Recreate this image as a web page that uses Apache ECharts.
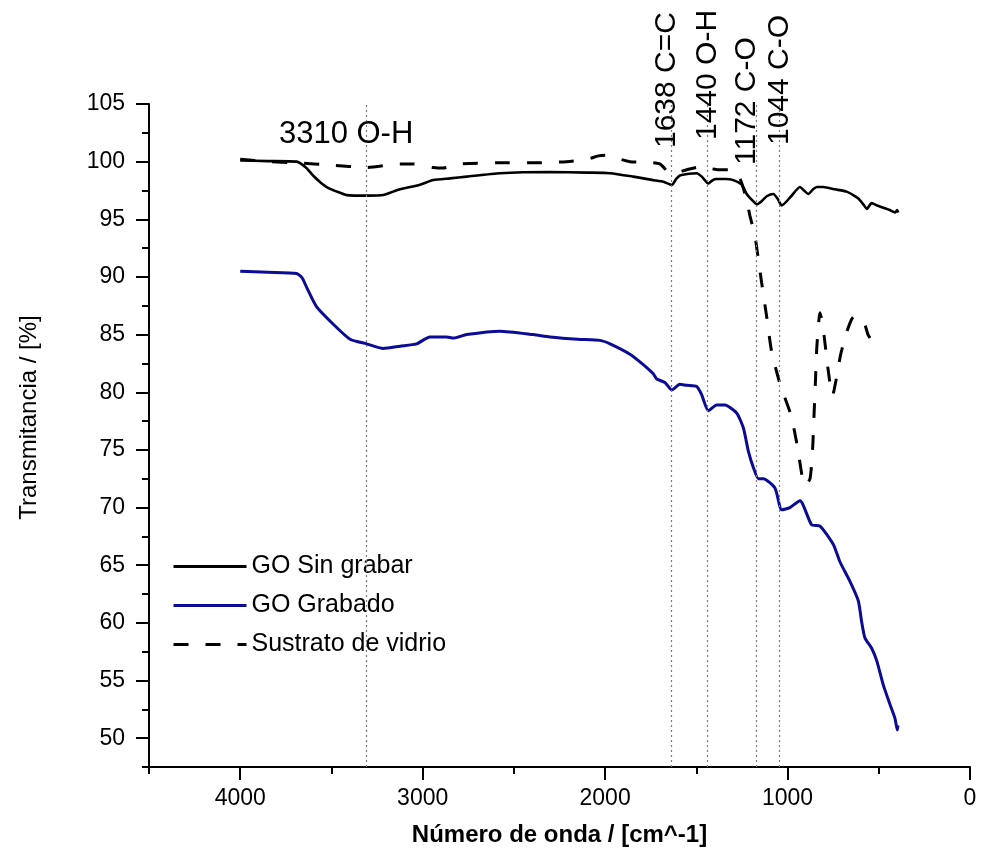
<!DOCTYPE html>
<html>
<head>
<meta charset="utf-8">
<script src="https://cdn.jsdelivr.net/npm/echarts@6/dist/echarts.min.js"></script>
<style>html,body{margin:0;padding:0;background:#fff}#c{width:982px;height:867px}</style>
</head>
<body>
<div id="c"></div>
<script>
// ---- data ----
const seriesNames = ['GO Sin grabar', 'GO Grabado', 'Sustrato de vidrio'];

const waveSin = [4000, 3850, 3691, 3640, 3601, 3560, 3526, 3470, 3416, 3300, 3216, 3161, 3124, 3015, 2942, 2850, 2759, 2576, 2302, 2100, 1973, 1845, 1736, 1680, 1635, 1610, 1590, 1540, 1498, 1470, 1434, 1410, 1389, 1340, 1297, 1251, 1224, 1190, 1169, 1140, 1114, 1078, 1055, 1032, 980, 932, 910, 886, 860, 840, 804, 740, 676, 640, 612, 580, 566, 539, 510, 475, 440, 410, 400, 393];
const transSin = [100.1, 100.05, 100.0, 99.5, 98.8, 98.2, 97.8, 97.4, 97.1, 97.05, 97.1, 97.4, 97.6, 98.0, 98.4, 98.55, 98.7, 99.0, 99.1, 99.05, 99.0, 98.7, 98.4, 98.25, 97.98, 98.5, 98.8, 98.95, 99.0, 98.7, 98.1, 98.4, 98.5, 98.5, 98.4, 98.0, 97.2, 96.6, 96.3, 96.6, 97.0, 97.2, 96.8, 96.2, 97.0, 97.8, 97.5, 97.2, 97.6, 97.8, 97.8, 97.6, 97.4, 97.1, 96.8, 96.2, 95.9, 96.4, 96.2, 96.0, 95.8, 95.6, 95.8, 95.6];

const waveGrab = [4000, 3850, 3691, 3660, 3636, 3581, 3490, 3398, 3307, 3216, 3124, 3033, 2960, 2868, 2832, 2759, 2576, 2393, 2302, 2150, 2028, 1973, 1864, 1791, 1736, 1717, 1672, 1635, 1590, 1553, 1498, 1471, 1434, 1389, 1343, 1279, 1242, 1215, 1188, 1160, 1133, 1069, 1032, 987, 932, 868, 822, 749, 713, 658, 612, 594, 576, 539, 511, 475, 438, 411, 398, 395];
const transGrab = [90.5, 90.4, 90.3, 89.9, 89.1, 87.4, 85.9, 84.6, 84.2, 83.8, 84.0, 84.2, 84.8, 84.8, 84.7, 85.0, 85.3, 85.0, 84.8, 84.6, 84.5, 84.2, 83.3, 82.4, 81.6, 81.15, 80.85, 80.2, 80.7, 80.6, 80.5, 79.8, 78.4, 78.9, 78.9, 78.2, 76.9, 74.9, 73.5, 72.5, 72.5, 71.7, 69.8, 70.0, 70.6, 68.5, 68.4, 66.8, 65.3, 63.6, 61.9, 60.1, 58.7, 57.8, 56.7, 54.6, 52.9, 51.7, 50.7, 51.1];

const waveVid = [4000, 3850, 3690, 3500, 3307, 3124, 3051, 2942, 2888, 2800, 2740, 2576, 2384, 2211, 2100, 2037, 2000, 1940, 1864, 1760, 1700, 1654, 1620, 1553, 1480, 1420, 1380, 1299, 1260, 1230, 1206, 1178, 1160, 1142, 1114, 1087, 1041, 981, 945, 917, 904, 877, 863, 855, 847, 840, 828, 822, 810, 799, 778, 760, 753, 745, 725, 710, 680, 658, 641, 620, 600, 575, 559, 548];
const transVid = [100.2, 100.0, 99.9, 99.7, 99.5, 99.8, 99.8, 99.5, 99.45, 99.8, 99.85, 99.9, 99.9, 100.0, 100.2, 100.5, 100.55, 100.3, 100.0, 99.95, 99.8, 99.1, 99.0, 99.3, 99.55, 99.4, 99.3, 99.3, 98.5, 97.0, 95.3, 93.5, 91.5, 89.5, 86.5, 83.5, 80.7, 78.0, 75.2, 72.4, 71.9, 72.5, 75.0, 78.0, 81.0, 83.8, 86.3, 86.9, 86.0, 84.8, 82.0, 80.0, 79.7, 80.2, 81.8, 83.2, 85.0, 86.0, 86.5, 86.6, 86.4, 85.8, 85.0, 84.7];

const annotWave = [3310, 1638, 1440, 1172, 1044];
const annotText = ['3310 O-H', '1638 C=C', '1440 O-H', '1172 C-O', '1044 C-O'];

const xTickValues = [0, 1000, 2000, 3000, 4000];
const yTickValues = [50, 55, 60, 65, 70, 75, 80, 85, 90, 95, 100, 105];

// ---- layout / style ----
const FONT = '"Liberation Sans", Arial, sans-serif';
const labelLayout = [
  {rot: false, y: 134, dx: -20},
  {rot: true, y: 148, dx: -4},
  {rot: true, y: 140, dx: 0},
  {rot: true, y: 165, dx: -9},
  {rot: true, y: 145, dx: 0}
];
const gridBox = {left: 149, right: 12, top: 104, bottom: 100, containLabel: false};

function pairs(xs, ys) { return xs.map((x, i) => [x, ys[i]]); }

const chart = echarts.init(document.getElementById('c'), null, {renderer: 'canvas'});
const axisBase = {
  splitLine: {show: false},
  minorTick: {show: false},
  minorSplitLine: {show: false}
};
const mainLine = {show: true, onZero: false, lineStyle: {color: '#000', width: 2}};
const hiddenLine = {show: false, onZero: false};
const option = {
  backgroundColor: '#fff',
  animation: false,
  grid: [Object.assign({}, gridBox), Object.assign({}, gridBox)],
  legend: {
    show: true,
    orient: 'vertical',
    left: 167,
    top: 549,
    itemWidth: 73,
    itemHeight: 25,
    itemGap: 14,
    lineStyle: {width: 3},
    itemStyle: {color: 'rgba(0,0,0,0)', borderWidth: 0, opacity: 0},
    textStyle: {fontFamily: FONT, fontSize: 25, color: '#000'},
    data: seriesNames
  },
  xAxis: [
    Object.assign({}, axisBase, {
      gridIndex: 0, type: 'value', min: 0, max: 4500, inverse: true, position: 'bottom',
      axisLine: mainLine,
      name: 'Número de onda / [cm^-1]', nameLocation: 'middle', nameGap: 56,
      nameTextStyle: {fontFamily: FONT, fontSize: 24, fontWeight: 'bold', color: '#000'},
      axisTick: {show: true, inside: false, length: 13, lineStyle: {color: '#000', width: 2}, customValues: xTickValues},
      axisLabel: {show: true, margin: 20, fontFamily: FONT, fontSize: 23, color: '#000', customValues: xTickValues,
        formatter: v => String(v)}
    }),
    Object.assign({}, axisBase, {
      gridIndex: 1, type: 'value', min: 0, max: 4500, interval: 500, inverse: true, position: 'bottom',
      axisLine: hiddenLine,
      axisTick: {show: true, inside: false, length: 7, lineStyle: {color: '#000', width: 2}},
      axisLabel: {show: false}
    })
  ],
  yAxis: [
    Object.assign({}, axisBase, {
      gridIndex: 0, type: 'value', min: 47.5, max: 105, position: 'left',
      axisLine: mainLine,
      name: 'Transmitancia / [%]', nameLocation: 'middle', nameGap: 108,
      nameTextStyle: {fontFamily: FONT, fontSize: 24, color: '#000', padding: [0, 0, 0, 36]},
      axisTick: {show: true, inside: false, length: 13, lineStyle: {color: '#000', width: 2}, customValues: yTickValues},
      axisLabel: {show: true, margin: 24, fontFamily: FONT, fontSize: 23, color: '#000', customValues: yTickValues,
        formatter: v => String(v)}
    }),
    Object.assign({}, axisBase, {
      gridIndex: 1, type: 'value', min: 47.5, max: 105, interval: 2.5, position: 'left',
      axisLine: hiddenLine,
      axisTick: {show: true, inside: false, length: 7, lineStyle: {color: '#000', width: 2}},
      axisLabel: {show: false}
    })
  ],
  series: [
    {
      name: seriesNames[0], type: 'line', xAxisIndex: 0, yAxisIndex: 0,
      data: pairs(waveSin, transSin), symbol: 'none', smooth: 0.2,
      lineStyle: {color: '#000', width: 2.6}, itemStyle: {color: '#000'},
      markLine: {
        silent: true, symbol: 'none', animation: false,
        label: {show: false},
        lineStyle: {color: '#7a7a7a', width: 1.2, type: [2, 3]},
        data: annotWave.map(v => ({xAxis: v}))
      },
      z: 3
    },
    {
      name: seriesNames[1], type: 'line', xAxisIndex: 0, yAxisIndex: 0,
      data: pairs(waveGrab, transGrab), symbol: 'none', smooth: 0.2,
      lineStyle: {color: '#0b0b96', width: 3}, itemStyle: {color: '#0b0b96'},
      z: 3
    },
    {
      name: seriesNames[2], type: 'line', xAxisIndex: 0, yAxisIndex: 0,
      data: pairs(waveVid, transVid), symbol: 'none', smooth: 0.2,
      lineStyle: {color: '#000', width: 3, type: [15, 17]}, itemStyle: {color: '#000'},
      z: 3
    }
  ]
};
chart.setOption(option);

// annotation labels positioned through the x axis scale
const elements = annotWave.map((v, i) => {
  const px = chart.convertToPixel({xAxisIndex: 0}, v);
  const L = labelLayout[i];
  if (!L.rot) {
    return {
      type: 'text', x: px + L.dx, y: L.y, z: 10,
      style: {text: annotText[i], font: '31px ' + FONT, fill: '#000',
        align: 'center', verticalAlign: 'middle', textAlign: 'center', textVerticalAlign: 'middle'}
    };
  }
  return {
    type: 'text', x: px + L.dx, y: L.y, rotation: Math.PI / 2, z: 10,
    style: {text: annotText[i], font: '30px ' + FONT, fill: '#000',
      align: 'left', verticalAlign: 'middle', textAlign: 'left', textVerticalAlign: 'middle'}
  };
});
chart.setOption({graphic: {elements: elements}});
</script>
</body>
</html>
